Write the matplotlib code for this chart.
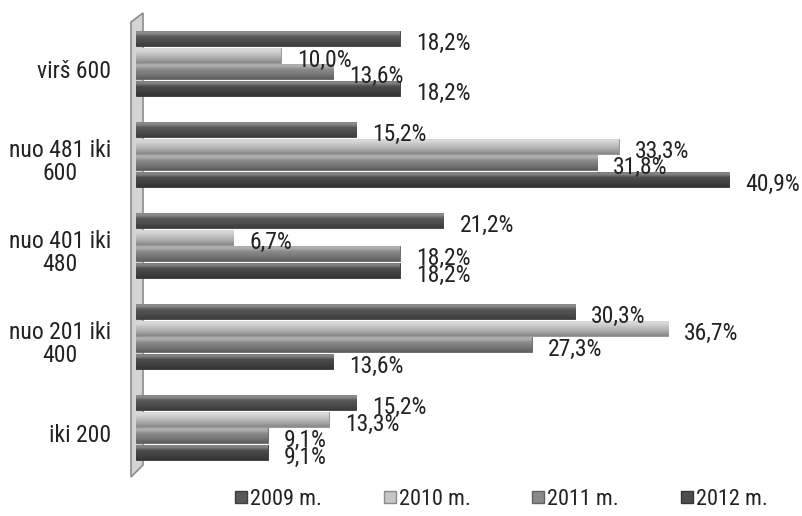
import matplotlib
matplotlib.use("Agg")
import matplotlib.pyplot as plt
import numpy as np
from matplotlib.patches import Polygon
from matplotlib.lines import Line2D
from matplotlib.transforms import ScaledTranslation

categories = ["iki 200", "nuo 201 iki\n400", "nuo 401 iki\n480", "nuo 481 iki\n600", "virš 600"]
series_names = ["2009 m.", "2010 m.", "2011 m.", "2012 m."]
v2009 = [15.2, 30.3, 21.2, 15.2, 18.2]
v2010 = [13.3, 36.7, 6.7, 33.3, 10.0]
v2011 = [9.1, 27.3, 18.2, 31.8, 13.6]
v2012 = [9.1, 13.6, 18.2, 40.9, 18.2]
values = [v2009, v2010, v2011, v2012]
base_colors = ["#585858", "#c6c6c6", "#8a8a8a", "#4c4c4c"]

plt.rcParams['font.family'] = ['Roboto Condensed', 'PT Sans Narrow', 'DejaVu Sans']

W, H = 803, 516
fig = plt.figure(figsize=(W / 100, H / 100), dpi=100)
fig.patch.set_facecolor("white")

# 3D-like wall on the left (figure pixel coords)
wall = Polygon([(131 / W, 1 - 22 / H), (143 / W, 1 - 13 / H), (143 / W, 1 - 465 / H), (131 / W, 1 - 477 / H)],
               closed=True, transform=fig.transFigure, facecolor="#d4d4d4", edgecolor="#8c8c8c", lw=1.2, zorder=-1)
fig.patches.append(wall)

ax = fig.add_axes([136 / W, 43 / H, 667 / W, 455 / H])
ax.set_facecolor("none")
for s in ax.spines.values():
    s.set_visible(False)
ax.set_xticks([])
ax.set_yticks(range(len(categories)))
ax.set_yticklabels(categories, fontsize=17, color="#222222", ha="right", multialignment="center", linespacing=1.0)
ax.tick_params(axis="y", length=0, pad=18)
shift = ScaledTranslation(0, -5 / 100, fig.dpi_scale_trans)
for lab in ax.get_yticklabels():
    lab.set_transform(lab.get_transform() + shift)

step = 0.181
bh = 0.165
offsets = [1.5 * step, 0.5 * step, -0.5 * step, -1.5 * step]
y = np.arange(len(categories))

def shade(hexc, f):
    c = np.array(matplotlib.colors.to_rgb(hexc))
    if f >= 1:
        return c + (1 - c) * (f - 1)
    return c * f

profile = np.array([1.25, 1.35, 1.2, 1.0, 0.95, 0.9, 0.85, 0.78, 0.7])

for i, vals in enumerate(values):
    bars = ax.barh(y + offsets[i], vals, height=bh, color=base_colors[i],
                   edgecolor=shade(base_colors[i], 0.7), linewidth=0.6, zorder=2)
    grad = np.array([shade(base_colors[i], f) for f in profile]).clip(0, 1)
    img = grad[:, None, :]
    for rect in bars:
        x0, y0, w, h = rect.get_x(), rect.get_y(), rect.get_width(), rect.get_height()
        im = ax.imshow(img, extent=(x0, x0 + w, y0, y0 + h), aspect="auto",
                       interpolation="bicubic", zorder=2.5, origin="upper")
        im.set_clip_path(rect)
    for rect, v in zip(bars, vals):
        ax.annotate(f"{v:.1f}%".replace(".", ","),
                    xy=(rect.get_width(), rect.get_y() + rect.get_height() / 2),
                    xytext=(16, -5), textcoords="offset pixels",
                    ha="left", va="center", fontsize=17, color="#222222", zorder=4)

ax.set_xlim(0, 667 / 14.5)
ax.set_ylim(-0.5, len(categories) - 0.5)

handles = [Line2D([], [], marker="s", linestyle="none", markersize=8,
                  markerfacecolor=c, markeredgecolor=shade(c, 0.7)) for c in base_colors]
fig.legend(handles, series_names, loc="lower center", bbox_to_anchor=(0.624, -0.027), ncol=4,
           frameon=False, fontsize=16, handlelength=0.6, handletextpad=0.1, columnspacing=2.75,
           labelcolor="#222222")

fig.savefig("out.png", dpi=100)
